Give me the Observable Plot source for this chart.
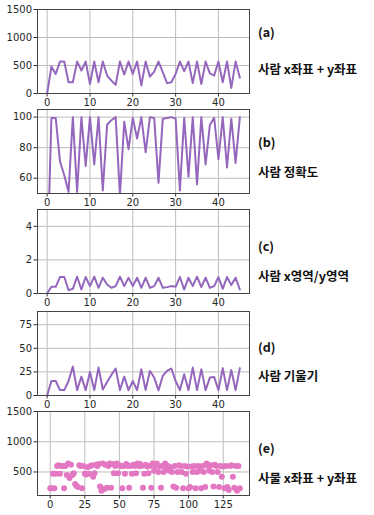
<!DOCTYPE html>
<html><head><meta charset="utf-8">
<script src="https://cdn.jsdelivr.net/npm/d3@7"></script>
<script src="https://cdn.jsdelivr.net/npm/@observablehq/plot@0.6"></script>
<style>
body{margin:0;background:#fff;width:374px;height:515px;overflow:hidden;position:relative;font-family:"DejaVu Sans",sans-serif}
.panel{position:absolute;left:0}
.lab{position:absolute;left:258px;font-family:"Noto Sans CJK KR",sans-serif;font-weight:700;font-size:12.5px;color:#111;white-space:nowrap;line-height:1}
</style></head>
<body>
<script>
// (a) 사람 x좌표 + y좌표
const personXY = [0,480,350,570,570,200,200,570,410,570,170,570,200,570,320,230,155,570,340,570,350,570,145,570,300,390,570,380,185,200,350,570,400,570,185,570,170,570,360,320,570,200,570,100,570,280];
// (b) 사람 정확도
const personAcc = [0,99.5,99.5,71,62,51,100,51,100,68,100,69,100,52,95,98,100,49,97,79,99.5,86,100,77,100,99.5,57,99,99.5,100,99,52,99.5,61,100,56,100,69,95,99.5,72.5,100,67,99,70,100];
// (c) 사람 x영역/y영역
const personRatio = [0,0.4,0.4,0.98,0.98,0.2,0.28,1.0,0.24,0.98,0.44,1.0,0.34,0.94,0.54,0.34,0.44,1.0,0.44,0.94,0.44,0.94,0.34,0.94,0.34,0.44,0.94,0.34,0.38,0.44,0.4,0.98,0.24,0.94,0.44,1.0,0.38,0.94,0.34,0.44,0.98,0.28,0.98,0.5,0.94,0.24];
// (d) 사람 기울기
const personSlope = [0,15.4,15.4,5.7,5.7,15.4,30.7,5.7,20,5.7,25,5.7,29.6,6.4,14.3,21.8,28.6,5.7,20,5.7,15.4,5.7,27.9,5.7,26,19,5.4,20.7,26,28.6,15.4,5.7,22.5,5.7,29.6,5.7,27.9,5.7,19,19.6,5.7,29,5.7,27,5.7,29];
// (e) 사물 x좌표 + y좌표
const objectXY = [230,230,470,230,470,600,610,470,600,600,230,600,450,640,400,620,450,480,300,270,250,610,600,230,600,470,460,580,470,600,610,420,480,620,600,630,260,190,640,220,620,240,600,640,240,630,480,600,640,480,610,600,230,600,470,630,600,240,600,470,620,600,480,640,600,630,600,240,470,620,590,480,600,240,640,520,600,640,500,590,240,600,500,640,550,600,520,580,500,260,600,240,500,610,600,500,230,600,470,590,230,250,590,500,600,230,500,600,520,230,600,500,250,640,600,520,610,500,260,620,600,500,250,600,420,590,230,600,250,200,600,610,420,240,600,190,600,230];

const xTicksA = [0,10,20,30,40];
const xTicksE = [0,25,50,75,100,125];
const labels = [["(a)","사람 x좌표 + y좌표"],["(b)","사람 정확도"],["(c)","사람 x영역/y영역"],["(d)","사람 기울기"],["(e)","사물 x좌표 + y좌표"]];

const purple = "#9467bd", pink = "#e377c2";
const frameTops = [9,109,209,311,411];
const fmt = d => String(d);

function panel(top, opts){
  const {data, yDomain, yTicks, xDomain, xTicks, dot, clip} = opts;
  const rows = data.map((v,i)=>({i, v}));
  const marks = [
    Plot.gridX(xTicks,{stroke:"#bdbdbd",strokeOpacity:1}),
    Plot.gridY(yTicks,{stroke:"#bdbdbd",strokeOpacity:1}),
    Plot.axisX(xTicks,{tickSize:3.5,tickPadding:2,fontSize:10,fill:"#262626",stroke:"#333",label:null,tickFormat:fmt}),
    Plot.axisY(yTicks,{tickSize:3.5,tickPadding:2,fontSize:10,fill:"#262626",stroke:"#333",label:null,tickFormat:fmt}),
    dot ? Plot.dot(rows,{x:"i",y:"v",r:3,fill:pink,stroke:null})
        : Plot.line(rows,{x:"i",y:"v",stroke:purple,strokeWidth:2,clip:clip}),
    Plot.frame({stroke:"#444",strokeWidth:1})
  ];
  const svg = Plot.plot({
    width:256, height:106,
    marginTop:6, marginBottom:16, marginLeft:37, marginRight:7,
    x:{domain:xDomain, axis:null, label:null},
    y:{domain:yDomain, axis:null, label:null},
    style:{background:"transparent",overflow:"visible",fontFamily:"DejaVu Sans, sans-serif"},
    marks
  });
  const d = document.createElement("div");
  d.className="panel"; d.style.top=(top-6)+"px";
  d.appendChild(svg);
  document.body.appendChild(d);
}

const xDomA = [-2.25,47.25];
panel(frameTops[0],{data:personXY,yDomain:[0,1500],yTicks:[0,500,1000,1500],xDomain:xDomA,xTicks:xTicksA});
panel(frameTops[1],{data:personAcc,yDomain:[50,105],yTicks:[60,80,100],xDomain:xDomA,xTicks:xTicksA,clip:true});
panel(frameTops[2],{data:personRatio,yDomain:[0,5],yTicks:[0,2,4],xDomain:xDomA,xTicks:xTicksA});
panel(frameTops[3],{data:personSlope,yDomain:[0,89],yTicks:[0,25,50,75],xDomain:xDomA,xTicks:xTicksA});
panel(frameTops[4],{data:objectXY,yDomain:[111,1500],yTicks:[500,1000,1500],xDomain:[-9.2,144],xTicks:xTicksE,dot:true});

const labY = [[33,70],[143,173],[247,277],[348,377],[449,479]];
labels.forEach((l,k)=>{
  l.forEach((t,j)=>{
    const e=document.createElement("div");
    e.className="lab"; e.textContent=t;
    e.style.top=(labY[k][j]-7)+"px";
    document.body.appendChild(e);
  });
});
</script>
</body></html>
